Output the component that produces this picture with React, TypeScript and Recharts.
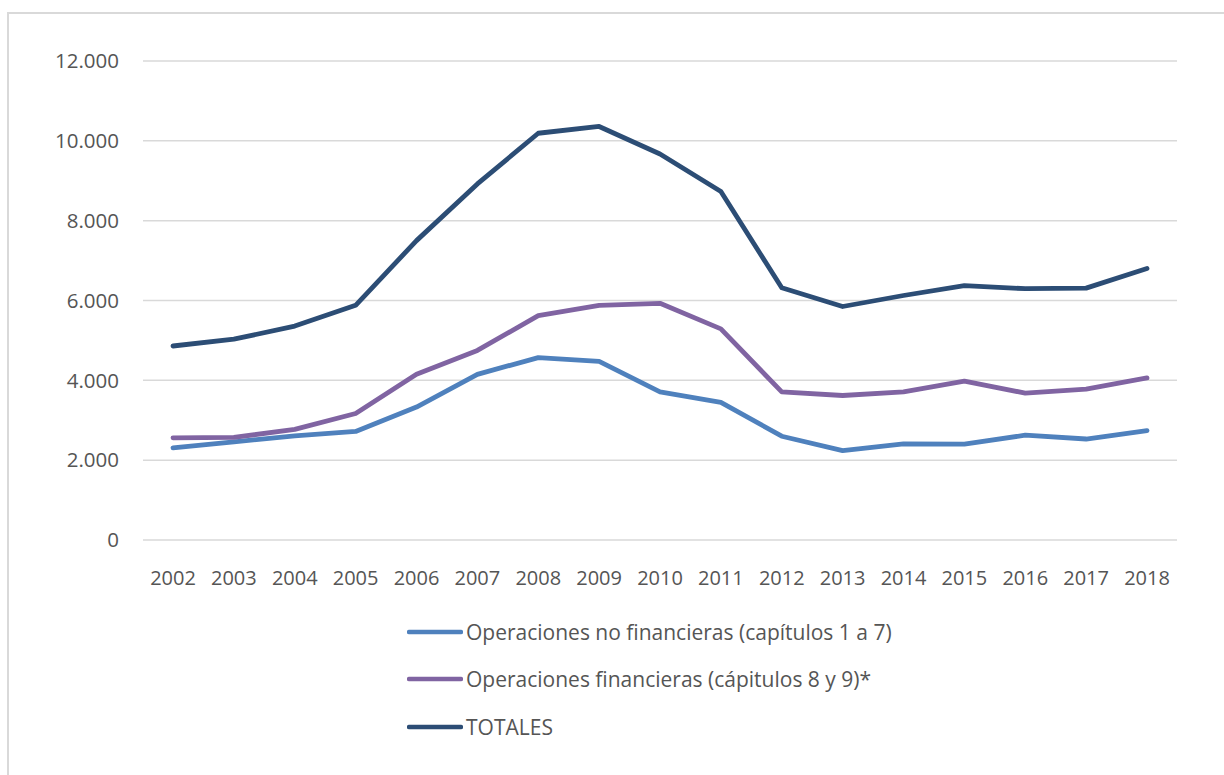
import React from 'react';
import { LineChart, Line, XAxis, YAxis, CartesianGrid, Legend } from 'recharts';

const years = ['2002', '2003', '2004', '2005', '2006', '2007', '2008', '2009', '2010', '2011', '2012', '2013', '2014', '2015', '2016', '2017', '2018'];
const noFinancieras = [2310, 2460, 2610, 2720, 3330, 4150, 4570, 4475, 3710, 3450, 2600, 2240, 2410, 2400, 2625, 2530, 2740];
const financieras = [2560, 2570, 2770, 3170, 4150, 4750, 5620, 5880, 5930, 5290, 3710, 3620, 3710, 3980, 3680, 3780, 4060];
const totales = [4860, 5030, 5360, 5880, 7500, 8920, 10190, 10360, 9670, 8730, 6320, 5850, 6125, 6375, 6295, 6310, 6800];
const yTicks = [0, 2000, 4000, 6000, 8000, 10000, 12000];
const seriesNames = ['Operaciones no financieras (capítulos 1 a 7)', 'Operaciones financieras (cápitulos 8 y 9)*', 'TOTALES'];
const seriesKeys = ['nf', 'f', 't'];
const seriesColors = ['#4F81BD', '#8064A2', '#2C4D75'];

const data = years.map((year, i) => ({ year, nf: noFinancieras[i], f: financieras[i], t: totales[i] }));

const FONT = '"Open Sans", "Noto Sans", sans-serif';
const TEXT = '#555555';

const fmt = (v: number) => String(v).replace(/\B(?=(\d{3})+(?!\d))/g, '.');

const LegendContent = () => (
  <div style={{ fontFamily: FONT }}>
    {seriesNames.map((name, i) => (
      <div key={name} style={{ height: 47.5, display: 'flex', alignItems: 'center' }}>
        <svg width={56} height={10} style={{ display: 'block' }}>
          <line x1={2} y1={5} x2={54} y2={5} stroke={seriesColors[i]} strokeWidth={4.5} strokeLinecap="round" />
        </svg>
        <span style={{ fontSize: 21, color: TEXT, marginLeft: 3, whiteSpace: 'nowrap' }}>{name}</span>
      </div>
    ))}
  </div>
);

export default function App() {
  return (
    <div style={{ position: 'absolute', left: 0, top: 0, width: 1224, height: 775, overflow: 'hidden', background: '#fff' }}>
      <div style={{ position: 'absolute', left: 7, top: 12, width: 1300, height: 800, borderTop: '2px solid #D9D9D9', borderLeft: '2px solid #D9D9D9' }} />
      <div style={{ position: 'absolute', left: 0, top: 0 }}>
        <LineChart width={1224} height={775} data={data} margin={{ top: 61, right: 47, bottom: 195, left: 63 }}>
          <CartesianGrid horizontal vertical={false} stroke="#D9D9D9" strokeWidth={1.5} />
          <XAxis
            dataKey="year"
            axisLine={false}
            tickLine={false}
            tickSize={0}
            tickMargin={31}
            height={40}
            interval={0}
            padding={{ left: 30, right: 30 }}
            tick={{ fill: TEXT, fontSize: 20, fontFamily: FONT }}
          />
          <YAxis
            domain={[0, 12000]}
            ticks={yTicks}
            axisLine={false}
            tickLine={false}
            tickSize={0}
            tickMargin={24}
            width={80}
            tickFormatter={fmt}
            tick={{ fill: TEXT, fontSize: 20.5, fontFamily: FONT }}
          />
          <Legend
            layout="vertical"
            align="center"
            verticalAlign="middle"
            content={<LegendContent />}
            wrapperStyle={{ position: 'absolute', left: 407, top: 608, width: 600, height: 150 }}
          />
          {seriesKeys.map((k, i) => (
            <Line
              key={k}
              type="linear"
              dataKey={k}
              name={seriesNames[i]}
              stroke={seriesColors[i]}
              strokeWidth={4.8}
              strokeLinecap="round"
              strokeLinejoin="round"
              dot={false}
              activeDot={false}
              isAnimationActive={false}
            />
          ))}
        </LineChart>
      </div>
    </div>
  );
}
